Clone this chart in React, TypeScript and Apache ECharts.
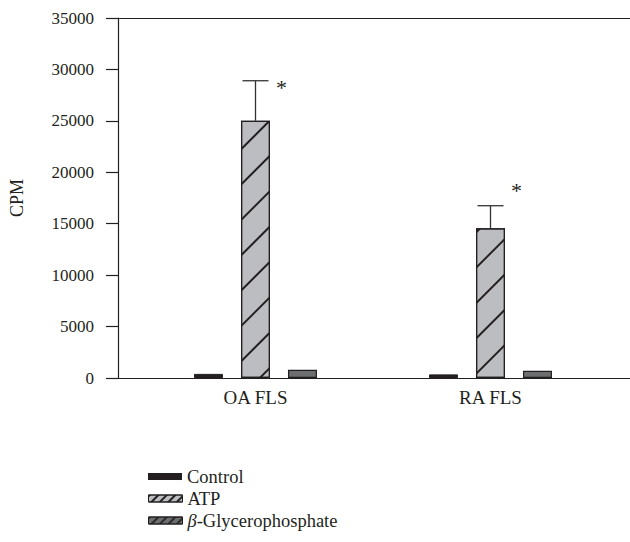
import React, { useEffect, useRef } from 'react';
import * as echarts from 'echarts';

const categories = ['OA FLS', 'RA FLS'];
const seriesNames = ['Control', 'ATP', 'β-Glycerophosphate'];
const controlValues = [400, 350];
const atpValues = [25000, 14550];
const betaValues = [800, 700];
const atpErrorTop = [28900, 16750];
const starValues = [28200, 18200];
const yMin = 0;
const yMax = 35000;
const yInterval = 5000;

const FONT = '"Liberation Serif", "DejaVu Serif", serif';
const INK = '#231f20';

export default function App() {
  const ref = useRef<HTMLDivElement>(null);
  useEffect(() => {
    if (!ref.current) return;
    const chart = echarts.init(ref.current, null, { renderer: 'svg' });
    const hatch = {
      symbol: 'rect',
      symbolSize: 1,
      dashArrayX: [1, 0],
      dashArrayY: [1.6, 23],
      rotation: -Math.PI / 4,
      color: INK,
    };
    const legendHatch = (c: string) => ({
      symbol: 'rect',
      symbolSize: 1,
      dashArrayX: [1, 0],
      dashArrayY: [1.2, 4],
      rotation: -Math.PI / 4,
      color: c,
    });
    const legendItemStyles = [
      { color: INK, borderWidth: 0 },
      { color: '#bcbdc0', borderColor: INK, borderWidth: 1, decal: legendHatch(INK) },
      { color: '#6d6e70', borderColor: INK, borderWidth: 1, decal: legendHatch('#2a2a2a') },
    ];
    const legendTops = [462, 484, 506];
    const legends = seriesNames.map((name, i) => ({
      orient: 'vertical', left: 143, top: legendTops[i], itemWidth: 34, itemHeight: 7, itemGap: 8,
      icon: 'rect',
      selectedMode: false,
      textStyle: {
        fontSize: 18.5, color: INK, fontFamily: FONT,
        rich: {
          i: { fontStyle: 'italic', fontSize: 18.5, fontFamily: FONT, color: INK },
          n: { fontSize: 18.5, fontFamily: FONT, color: INK },
        },
      },
      formatter: (n: string) => (n.startsWith('β') ? '{i|β}{n|' + n.slice(1) + '}' : n),
      data: [{ name, itemStyle: legendItemStyles[i] }],
    }));
    chart.setOption({
      animation: false,
      backgroundColor: '#ffffff',
      textStyle: { fontFamily: FONT, color: INK },
      grid: [
        { left: 116, top: 18, width: 514, height: 360 },
        { left: 138, top: 18, width: 470, height: 360 },
      ],
      xAxis: [
        {
          type: 'category', gridIndex: 0, data: categories, position: 'bottom',
          axisLine: { show: true, lineStyle: { color: INK, width: 1.2 } },
          axisTick: { show: false }, axisLabel: { show: false },
        },
        {
          type: 'category', gridIndex: 0, data: categories, position: 'top',
          axisLine: { show: true, lineStyle: { color: INK, width: 1.2 } },
          axisTick: { show: false }, axisLabel: { show: false },
        },
        {
          type: 'category', gridIndex: 1, data: categories, position: 'bottom',
          axisLine: { show: false }, axisTick: { show: false },
          axisLabel: { fontSize: 19, color: INK, fontFamily: FONT, margin: 10 },
        },
      ],
      yAxis: [
        {
          type: 'value', gridIndex: 0, min: yMin, max: yMax, interval: yInterval,
          name: 'CPM', nameLocation: 'middle', nameGap: 92,
          nameTextStyle: { fontSize: 18, color: INK, fontFamily: FONT },
          axisLine: { show: true, lineStyle: { color: INK, width: 1.2 } },
          axisTick: { show: true, length: 12, lineStyle: { color: INK, width: 1.2 } },
          axisLabel: { fontSize: 17, color: INK, fontFamily: FONT, margin: 24, formatter: (v: number) => String(v) },
          splitLine: { show: false },
        },
        {
          type: 'value', gridIndex: 1, min: yMin, max: yMax, interval: yInterval, show: false,
        },
      ],
      legend: legends,
      series: [
        {
          name: seriesNames[0], type: 'bar', xAxisIndex: 2, yAxisIndex: 1,
          barWidth: 29, barGap: '62%', data: controlValues,
          itemStyle: { color: INK, borderColor: INK, borderWidth: 1 },
        },
        {
          name: seriesNames[1], type: 'bar', xAxisIndex: 2, yAxisIndex: 1,
          barWidth: 29, barGap: '62%', data: atpValues,
          itemStyle: { color: '#bcbdc0', borderColor: INK, borderWidth: 1.2, decal: hatch },
        },
        {
          name: seriesNames[2], type: 'bar', xAxisIndex: 2, yAxisIndex: 1,
          barWidth: 29, barGap: '62%', data: betaValues,
          itemStyle: { color: '#6d6e70', borderColor: INK, borderWidth: 1.2 },
        },
        {
          type: 'custom', xAxisIndex: 2, yAxisIndex: 1, z: 5,
          data: categories.map((c, i) => [i, atpValues[i], atpErrorTop[i], starValues[i]]),
          renderItem: (params: any, api: any) => {
            const x = api.value(0);
            const p0 = api.coord([x, api.value(1)]);
            const p1 = api.coord([x, api.value(2)]);
            const ps = api.coord([x, api.value(3)]);
            const st = { stroke: '#333333', lineWidth: 1.3 };
            return {
              type: 'group',
              children: [
                { type: 'line', shape: { x1: p0[0], y1: p0[1], x2: p1[0], y2: p1[1] }, style: st },
                { type: 'line', shape: { x1: p1[0] - 13, y1: p1[1], x2: p1[0] + 13, y2: p1[1] }, style: st },
                {
                  type: 'text', x: ps[0] + 26, y: ps[1],
                  style: { text: '*', fontSize: 22, fill: INK, fontFamily: FONT, align: 'center', verticalAlign: 'middle' },
                },
              ],
            };
          },
        },
      ],
    });
    return () => chart.dispose();
  }, []);
  return <div ref={ref} style={{ position: 'fixed', left: 0, top: 0, width: 630, height: 542 }} />;
}
